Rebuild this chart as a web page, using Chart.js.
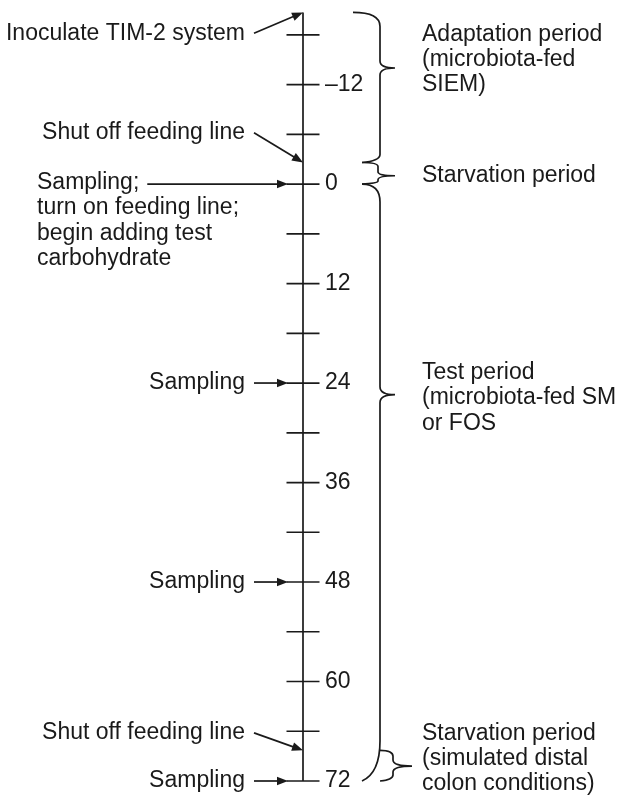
<!DOCTYPE html>
<html>
<head>
<meta charset="utf-8">
<script src="https://cdn.jsdelivr.net/npm/chart.js@4.4.1/dist/chart.umd.min.js"></script>
<style>
  html, body { margin: 0; padding: 0; background: #fff; }
  canvas { display: block; }
</style>
</head>
<body>
<canvas id="timeline" width="626" height="797"></canvas>
<script>
// time axis (hours)
const axisStart = -20.7;
const axisEnd = 72;
const tickHours = [-18, -12, -6, 0, 6, 12, 18, 24, 30, 36, 42, 48, 54, 60, 66, 72];
const labelHours = [-12, 0, 12, 24, 36, 48, 60, 72];
const labelTexts = ['\u201312', '0', '12', '24', '36', '48', '60', '72'];

// events on the left: arrow runs from the label row to the event hour
const eventTexts = [
  ['Inoculate TIM-2 system'],
  ['Shut off feeding line'],
  ['Sampling;', 'turn on feeding line;', 'begin adding test', 'carbohydrate'],
  ['Sampling'],
  ['Sampling'],
  ['Shut off feeding line'],
  ['Sampling']
];
const eventHours = [-20.7, -2.6, 0, 24, 48, 68.3, 72];
const eventLabelHours = [-18.2, -6.2, -0.2, 24, 48, 66.2, 72];

// periods on the right (braces)
const periodTexts = [
  ['Adaptation period', '(microbiota-fed', 'SIEM)'],
  ['Starvation period'],
  ['Test period', '(microbiota-fed SM', 'or FOS'],
  ['Starvation period', '(simulated distal', 'colon conditions)']
];
const periodStart = [-20.7, -2.6, 0, 68.3];
const periodEnd = [-2.6, 0, 72, 72];
const periodTip = [-14, -1, 25.4, 70.2];
const periodTextHour = [-15, -1, 25.8, 69.3];

// layout / style
const INK = '#1a1a1a';
const FONT = '23px "Liberation Sans", Arial, sans-serif';
const LINE_H = 25.4;
const AXIS_X = 303;
const TICK_HALF = 16.5;
const TICK_LABEL_X = 325;
const LEFT_TEXT_RIGHT = 245;
const LEFT_BLOCK_X = 37;
const ARROW_START_X = 254;
const H_ARROW_TIP_X = 288;
const RIGHT_TEXT_X = 422;
const braceStyle = [
  { left: 353, leftBot: 362, spine: 380, tip: 395, rT: 14, rM: 7, rB: 8 },
  { left: 362, leftBot: 362, spine: 378, tip: 395, rT: 4, rM: 4, rB: 3 },
  { left: 362, leftBot: 362, spine: 380, tip: 395, rT: 18, rM: 8, rB: 40 },
  { left: 380, leftBot: 380, spine: 393, tip: 412, rT: 6, rM: 6, rB: 6 }
];

function arrow(ctx, x1, y1, x2, y2) {
  const a = Math.atan2(y2 - y1, x2 - x1);
  const len = 11, half = 4.3;
  ctx.beginPath();
  ctx.moveTo(x1, y1);
  ctx.lineTo(x2 - Math.cos(a) * len * 0.6, y2 - Math.sin(a) * len * 0.6);
  ctx.stroke();
  ctx.beginPath();
  ctx.moveTo(x2, y2);
  ctx.lineTo(x2 - Math.cos(a) * len - Math.sin(a) * half, y2 - Math.sin(a) * len + Math.cos(a) * half);
  ctx.lineTo(x2 - Math.cos(a) * len + Math.sin(a) * half, y2 - Math.sin(a) * len - Math.cos(a) * half);
  ctx.closePath();
  ctx.fill();
}

function brace(ctx, s, yT, yM, yB) {
  ctx.beginPath();
  ctx.moveTo(s.left, yT);
  ctx.quadraticCurveTo(s.spine, yT, s.spine, yT + s.rT);
  ctx.lineTo(s.spine, yM - s.rM);
  ctx.quadraticCurveTo(s.spine, yM, s.tip, yM);
  ctx.quadraticCurveTo(s.spine, yM, s.spine, yM + s.rM);
  ctx.lineTo(s.spine, yB - s.rB);
  ctx.quadraticCurveTo(s.spine, yB - s.rB * 0.2, s.leftBot, yB);
  ctx.stroke();
}

const timelinePlugin = {
  id: 'timeline',
  afterDatasetsDraw(chart) {
    const ctx = chart.ctx;
    const xs = chart.scales.x, ys = chart.scales.y;
    const ax = xs.getPixelForValue(AXIS_X);
    ctx.save();
    ctx.strokeStyle = INK;
    ctx.fillStyle = INK;
    ctx.lineWidth = 1.7;
    ctx.font = FONT;
    ctx.textBaseline = 'middle';

    // hour labels
    ctx.textAlign = 'left';
    labelHours.forEach((h, i) => {
      ctx.fillText(labelTexts[i], TICK_LABEL_X, ys.getPixelForValue(h));
    });

    // events
    eventTexts.forEach((lines, i) => {
      const yl = ys.getPixelForValue(eventLabelHours[i]);
      const ye = ys.getPixelForValue(eventHours[i]);
      if (lines.length > 1) {
        ctx.textAlign = 'left';
        lines.forEach((t, k) => ctx.fillText(t, LEFT_BLOCK_X, yl + k * LINE_H));
        const x0 = LEFT_BLOCK_X + ctx.measureText(lines[0]).width + 8;
        arrow(ctx, x0, ye, H_ARROW_TIP_X, ye);
      } else {
        ctx.textAlign = 'right';
        ctx.fillText(lines[0], LEFT_TEXT_RIGHT, yl);
        if (Math.abs(ye - yl) < 1) arrow(ctx, ARROW_START_X, ye, H_ARROW_TIP_X, ye);
        else arrow(ctx, ARROW_START_X, yl, ax, ye);
      }
    });

    // periods
    ctx.textAlign = 'left';
    periodTexts.forEach((lines, i) => {
      brace(ctx, braceStyle[i], ys.getPixelForValue(periodStart[i]),
        ys.getPixelForValue(periodTip[i]), ys.getPixelForValue(periodEnd[i]));
      const yc = ys.getPixelForValue(periodTextHour[i]);
      const y0 = yc - (lines.length - 1) * LINE_H / 2;
      lines.forEach((t, k) => ctx.fillText(t, RIGHT_TEXT_X, y0 + k * LINE_H));
    });
    ctx.restore();
  }
};

new Chart(document.getElementById('timeline'), {
  type: 'scatter',
  data: {
    datasets: [
      {
        label: 'axis',
        data: [{ x: AXIS_X, y: axisStart }, { x: AXIS_X, y: axisEnd }],
        showLine: true,
        borderColor: INK,
        borderWidth: 1.7,
        pointRadius: 0
      },
      {
        label: 'ticks',
        data: tickHours.map(h => ({ x: AXIS_X, y: h })),
        pointStyle: 'line',
        pointRadius: TICK_HALF,
        borderColor: INK,
        borderWidth: 1.7
      }
    ]
  },
  options: {
    responsive: false,
    animation: false,
    events: [],
    layout: { padding: 0, autoPadding: false },
    plugins: { legend: { display: false }, tooltip: { enabled: false } },
    scales: {
      x: { type: 'linear', min: 0, max: 626, display: false },
      y: { type: 'linear', min: -22.2, max: 73.93, reverse: true, display: false }
    }
  },
  plugins: [timelinePlugin]
});
</script>
</body>
</html>
